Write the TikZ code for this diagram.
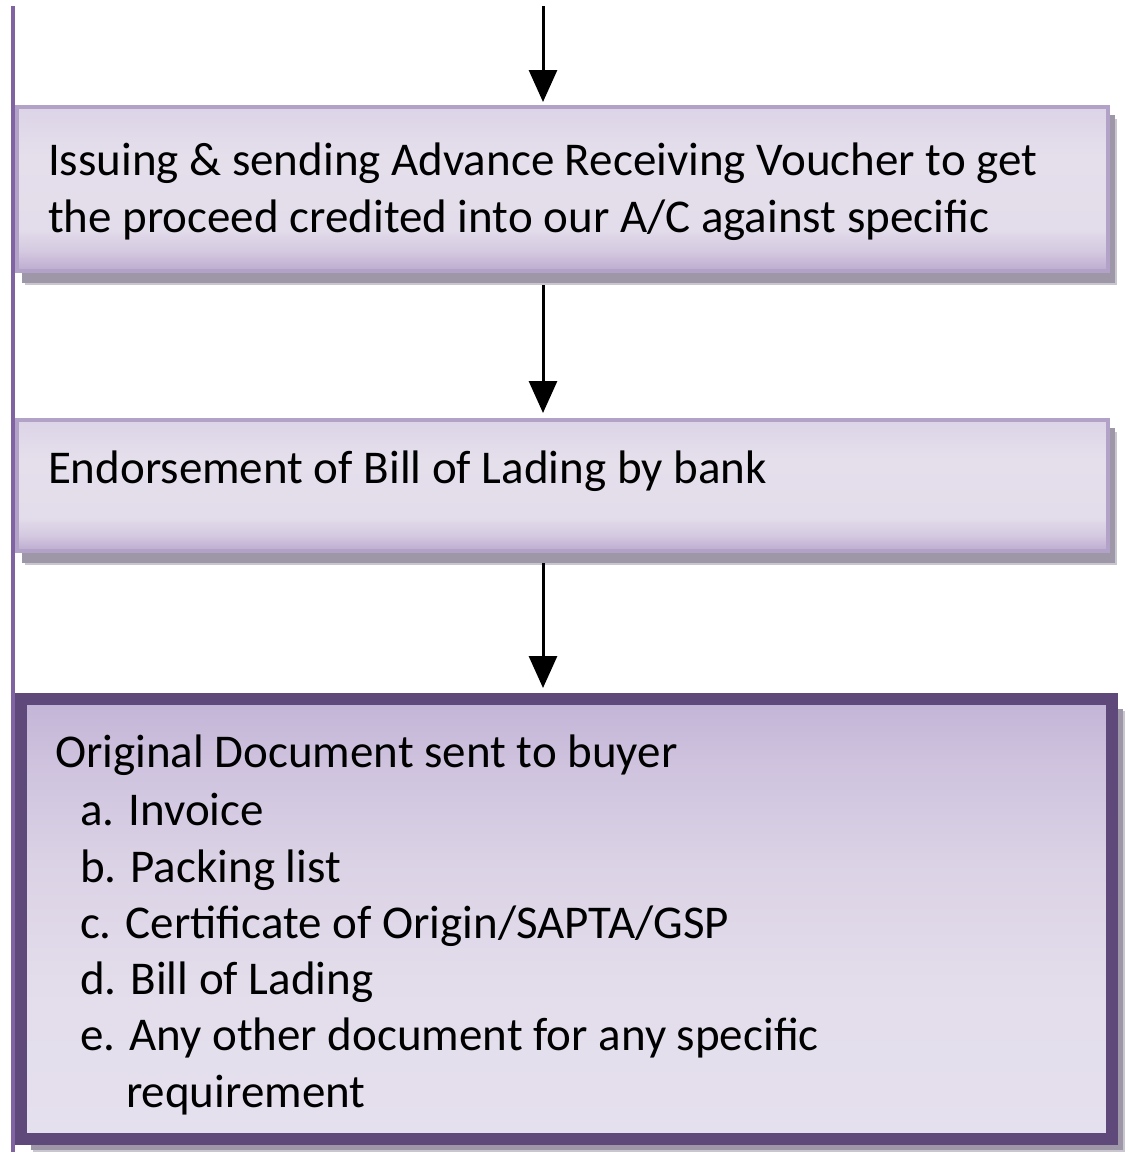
\documentclass[tikz,border=0pt]{standalone}
\usepackage{fontspec}
\setmainfont{Carlito}
\usetikzlibrary{arrows.meta,backgrounds}
\definecolor{sideline}{HTML}{8064A2}
\definecolor{boxline}{HTML}{B3A2C7}
\definecolor{lastline}{HTML}{5F497A}
\definecolor{shadowdark}{HTML}{9E97A8}
\definecolor{shadowlight}{HTML}{CAC6CF}
\pgfdeclareverticalshading{boxshade}{100bp}{%
  color(0bp)=(rgb,255:red,188;green,170;blue,207);
  color(25bp)=(rgb,255:red,188;green,170;blue,207);
  color(31bp)=(rgb,255:red,212;green,201;blue,224);
  color(38bp)=(rgb,255:red,227;green,221;blue,235);
  color(60bp)=(rgb,255:red,229;green,223;blue,236);
  color(75bp)=(rgb,255:red,220;green,212;blue,231);
  color(100bp)=(rgb,255:red,220;green,212;blue,231)}
\pgfdeclareverticalshading{lastshade}{100bp}{%
  color(0bp)=(rgb,255:red,229;green,224;blue,237);
  color(25bp)=(rgb,255:red,229;green,224;blue,237);
  color(40bp)=(rgb,255:red,228;green,222;blue,236);
  color(55bp)=(rgb,255:red,220;green,212;blue,230);
  color(68bp)=(rgb,255:red,206;green,194;blue,222);
  color(75bp)=(rgb,255:red,194;green,180;blue,214);
  color(100bp)=(rgb,255:red,194;green,180;blue,214)}
\begin{document}
\begin{tikzpicture}[x=1pt,y=-1pt,
  every node/.style={outer sep=0pt},
  flowbox/.style={rectangle, draw=boxline, line width=4pt, minimum width=1091pt,
    inner sep=0pt, shading=boxshade},
  lastbox/.style={flowbox, draw=lastline, line width=12pt, shading=lastshade},
  txt/.style={anchor=base west, inner sep=0pt, font=\fontsize{47}{57}\selectfont, text=black},
  flowarrow/.style={draw=black, line width=3pt, -{Triangle[width=28pt,length=32pt]}},
  shadowbig/.style={fill=shadowlight},
  shadowsmall/.style={fill=shadowdark}]
\useasboundingbox (0,0) rectangle (1127,1152);

% boxes
\node[flowbox, minimum height=164pt] (b1) at (562.5,189) {};
\node[flowbox, minimum height=131pt] (b2) at (562.5,485.5) {};
\node[lastbox, minimum height=440pt] (b3) at (566.5,919) {};

% shadows
\begin{scope}[on background layer]
  \fill[shadowbig] ([xshift=8pt,yshift=-12pt]b1.north west) rectangle ([xshift=9pt,yshift=-14pt]b1.south east);
  \fill[shadowsmall] ([xshift=5pt,yshift=-8pt]b1.north west) rectangle ([xshift=7pt,yshift=-12pt]b1.south east);
  \fill[shadowbig] ([xshift=8pt,yshift=-12pt]b2.north west) rectangle ([xshift=9pt,yshift=-14pt]b2.south east);
  \fill[shadowsmall] ([xshift=5pt,yshift=-8pt]b2.north west) rectangle ([xshift=7pt,yshift=-12pt]b2.south east);
  \fill[shadowbig] ([xshift=12pt,yshift=-12pt]b3.north west) rectangle ([xshift=13pt,yshift=-13pt]b3.south east);
  \fill[shadowsmall] ([xshift=10pt,yshift=-10pt]b3.north west) rectangle ([xshift=11pt,yshift=-11pt]b3.south east);
\end{scope}

% left vertical line
\draw[sideline, line width=4pt] (13,6) -- (13,1152);

% texts
\node[txt] (t1a) at (48,175) {Issuing \& sending Advance Receiving Voucher to get};
\node[txt] (t1b) at (48,232) {the proceed credited into our A/C against specific};
\node[txt] (t2) at (48,483) {Endorsement of Bill of Lading by bank};
\node[txt] (t3) at (55,767) {Original Document sent to buyer};
\node[txt] (t3a) at (80,825) {a. Invoice};
\node[txt] (t3b) at (80,882) {b. Packing list};
\node[txt] (t3c) at (80,938) {c. Certificate of Origin/SAPTA/GSP};
\node[txt] (t3d) at (80,994) {d. Bill of Lading};
\node[txt] (t3e) at (80,1050) {e. Any other document for any specific};
\node[txt] (t3f) at (126,1107) {requirement};

% arrows
\coordinate (top) at (543,6);
\draw[flowarrow] (top) -- ([yshift=5pt]b1.north -| top);
\draw[flowarrow] ([yshift=-14pt]b1.south -| top) -- ([yshift=7pt]b2.north -| top);
\draw[flowarrow] ([yshift=-12pt]b2.south -| top) -- ([yshift=11pt]b3.north -| top);
\end{tikzpicture}
\end{document}
